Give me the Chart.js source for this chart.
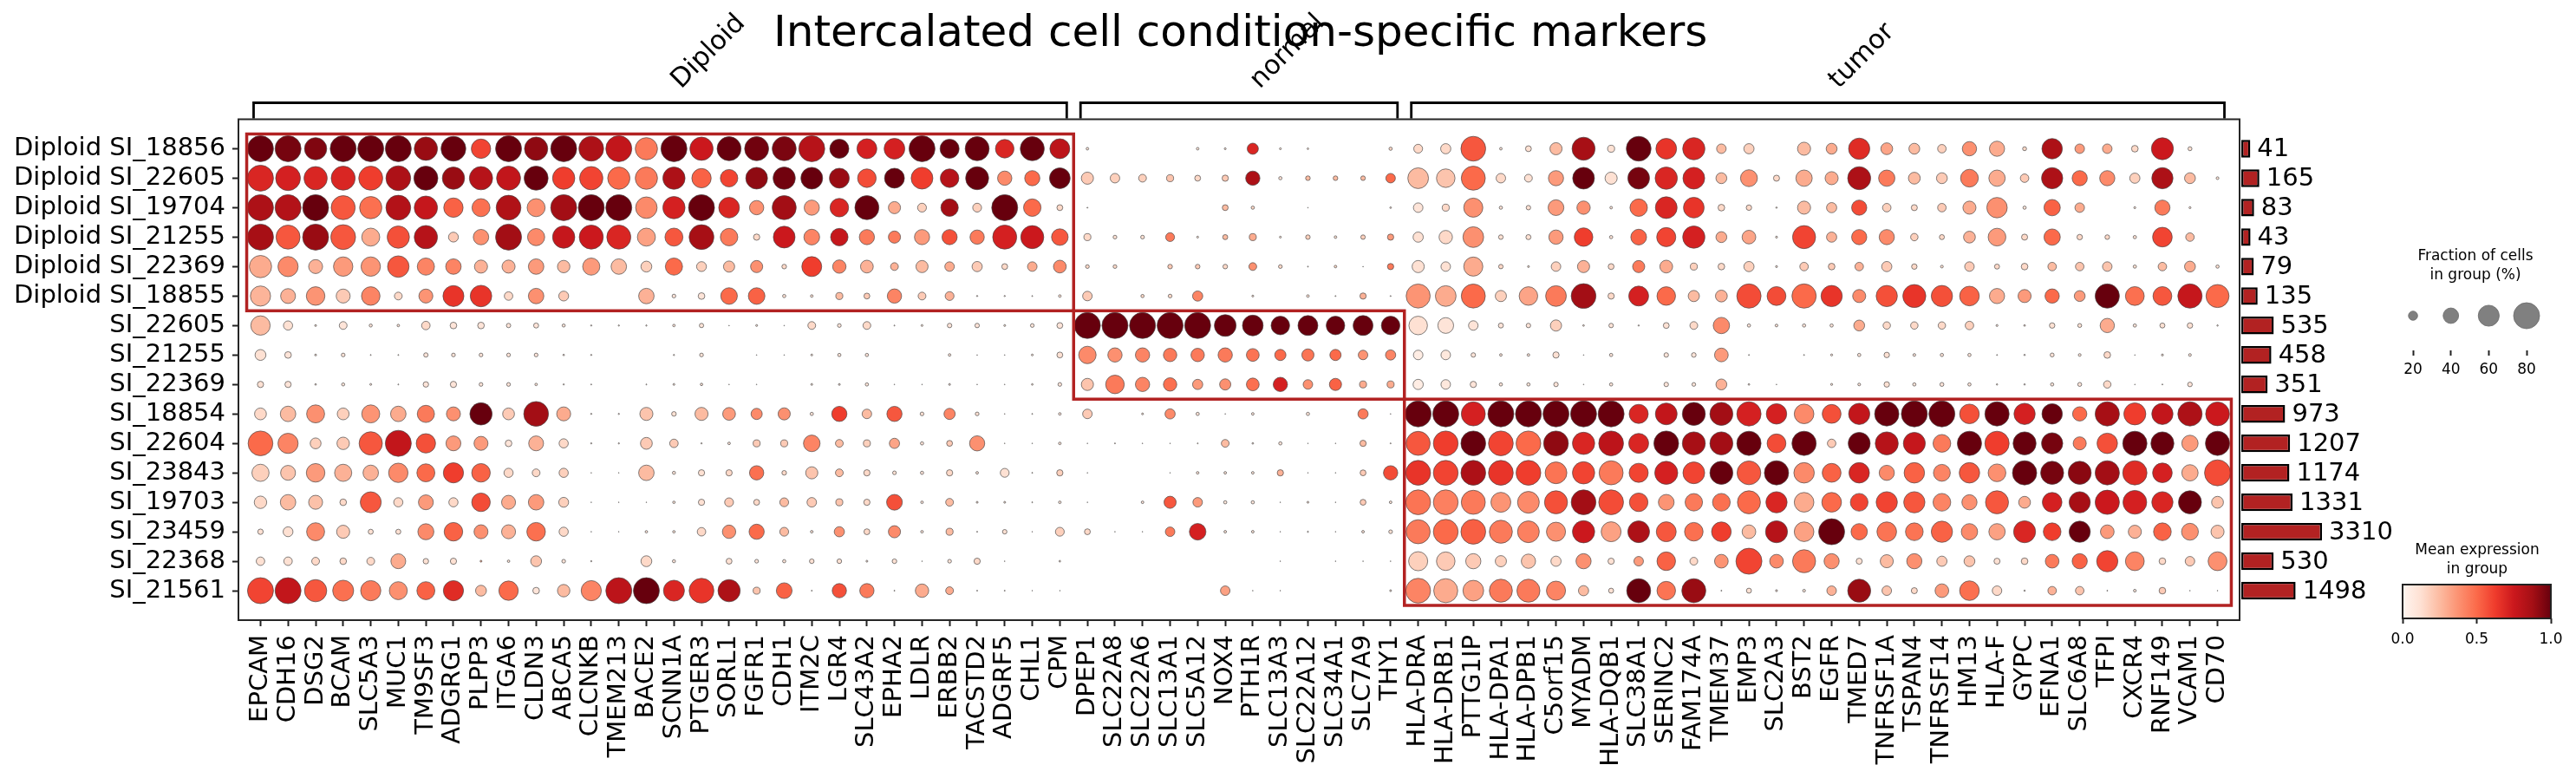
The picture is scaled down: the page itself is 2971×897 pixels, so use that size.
<!DOCTYPE html>
<html><head><meta charset="utf-8">
<script src="https://cdn.jsdelivr.net/npm/chart.js@4.4.1/dist/chart.umd.min.js"></script>
<style>
html,body{margin:0;padding:0;background:#fff;overflow:hidden;width:2971px;height:897px}
canvas{position:absolute;left:0;top:0}
</style></head>
<body>
<canvas id="main" width="2971" height="897"></canvas>
<canvas id="bars" width="2971" height="897"></canvas>
<canvas id="sizeLegend" width="2971" height="897"></canvas>
<canvas id="cbar" width="2971" height="897"></canvas>
<script>
// ---------------- DATA ----------------
const chartTitle = 'Intercalated cell condition-specific markers';
const diploidGenes = ['EPCAM','CDH16','DSG2','BCAM','SLC5A3','MUC1','TM9SF3','ADGRG1','PLPP3','ITGA6','CLDN3','ABCA5','CLCNKB','TMEM213','BACE2','SCNN1A','PTGER3','SORL1','FGFR1','CDH1','ITM2C','LGR4','SLC43A2','EPHA2','LDLR','ERBB2','TACSTD2','ADGRF5','CHL1','CPM'];
const normalGenes = ['DPEP1','SLC22A8','SLC22A6','SLC13A1','SLC5A12','NOX4','PTH1R','SLC13A3','SLC22A12','SLC34A1','SLC7A9','THY1'];
const tumorGenes = ['HLA-DRA','HLA-DRB1','PTTG1IP','HLA-DPA1','HLA-DPB1','C5orf15','MYADM','HLA-DQB1','SLC38A1','SERINC2','FAM174A','TMEM37','EMP3','SLC2A3','BST2','EGFR','TMED7','TNFRSF1A','TSPAN4','TNFRSF14','HM13','HLA-F','GYPC','EFNA1','SLC6A8','TFPI','CXCR4','RNF149','VCAM1','CD70'];
const groupLabels = ['Diploid','normal','tumor'];
const rowLabels = ['Diploid SI_18856','Diploid SI_22605','Diploid SI_19704','Diploid SI_21255','Diploid SI_22369','Diploid SI_18855','SI_22605','SI_21255','SI_22369','SI_18854','SI_22604','SI_23843','SI_19703','SI_23459','SI_22368','SI_21561'];
const rowGroupSizes = [6, 3, 7];
const cellCounts = [41,165,83,43,79,135,535,458,351,973,1207,1174,1331,3310,530,1498];
const legendFractions = [20,40,60,80];
const colorbarTicks = [0, 0.5, 1];

// fraction of cells expressing (%) per row (sample) x gene
const fraction = [
 [88,88,65,88,88,88,69,75,54,88,69,88,75,88,65,88,69, 72,72,72,88,53,56,59,88,53,72,51,72,56,3.7,0,0,0,3.7, 2.4,26,2.4,2,0,0,5,19,23,75,3.7,11,29,68,14,75,59,65, 21,23,0,32,25,61,28,25,18,36,39,6.5,58,21,21,13,64,6.5,0],
 [88,75,69,72,72,75,72,65,69,72,72,65,69,65,65,65,54, 47,63,65,63,56,51,56,63,51,68,36,39,59,29,21,16,14,11, 12,36,5,8,8,8,21,59,51,72,21,16,39,63,29,63,65,63, 25,45,11.5,43,32,68,43,28,25,48,43,18,61,39,39,23,61,25,4],
 [88,88,88,72,65,75,69,54,49,75,49,88,88,88,62,65,88, 59,36,72,39,51,72,29,19,47,19,88,47,11,1,0,0,0,0, 11,5,0,0.6,0,0,2,21,14,53,5,7.7,41,33,3.7,47,63,59, 13,10,1.6,32,23,39,18,11.5,18,32,58,5,43,21,0,2.6,39,2.6,0],
 [88,72,88,75,49,65,69,22,40,88,46,65,72,72,49,49,75, 47,12,63,41,47,39,29,39,39,36,72,68,44,14,6,6,19,2.4, 9,14,2.4,7.7,3.7,7.7,12,23,33,59,8,9,36,51,5,41,53,65, 25,34,2.6,68,23,39,39,15,9,28,48,11.5,43,10,8,5,55,18,0],
 [65,57,35,54,54,62,46,40,32,32,40,30,46,40,25,46,22, 26,29,8,56,33,31,16,29,21,23,11,21,31,6,6,0,8,8, 8,16,6,1,3.7,0.6,12,29,21,53,7.7,2.4,21,29,11,29,31,14, 13,23,2.6,18,13,18,23,10,4,21,9,13,18,18,21,5,18,25,5],
 [57,38,51,35,51,16,35,60,62,18,40,22,0,0,40,6,13, 44,44,5,3.7,14,11,36,16,19,1.4,1.4,1,3.7,21,0,5,6,23, 0,2.4,0,3.7,1,12,1,72,59,72,26,51,59,75,12,56,51,26, 28,73,52,73,61,32,61,68,61,55,39,32,36,25,73,52,52,73,68],
 [54,20,2.4,16,4.7,3.5,18,13,13,7.4,9,4.7,1.4,1.4,1.4,3.5,7.4, 0.6,2.4,0.6,16,6,16,1,2.4,7.7,7.7,2.4,6,11,88,88,88,85,85, 63,59,51,56,51,56,51,51,41,21,9,7.7,26,2,7.7,1.4,11,16, 43,5,4,5,5,25,15,15,15,18,2.6,2,10,6.5,36,5,9,10,1.6],
 [25,13,2.4,6,1,1,7.4,6,6,6,6,1.9,1.4,0,0,1.4,6, 0,0.6,0.6,2.4,5,5,0,0,3.7,0.6,0.6,2.4,11,47,36,36,33,33, 36,31,26,29,26,21,23,21,21,7.7,3.7,3.7,12,0.6,5,0,7.7,8, 34,1,0,1,2.6,5,10,4,5,5,1,1.6,6.5,4,13,0.6,2.6,4,0],
 [12,12,1.9,4.7,2.4,1,10,12,6,6,3.5,1.4,1,0,1,2.4,3.5, 0.6,0.6,0,2.4,2.4,5,0.6,0.6,2.4,0.6,0.6,2,6,29,51,36,33,23, 26,31,36,21,29,14,14,23,21,12,5,5,7.7,0.6,5,0,7.7,6, 25,2,0.6,0,2.6,4,10,5,6.5,5,1.6,1.6,5,6.5,15,0.6,1,8,0],
 [28,40,49,28,49,40,46,35,65,28,75,35,1.4,1.4,32,8,32, 31,26,29,5,39,21,39,6,26,6,0.6,1,3.7,21,0,2.4,23,5, 0.6,3.7,0,5,0,23,0.6,88,88,72,88,88,88,88,88,53,63,68, 68,73,58,55,52,61,73,88,88,55,73,61,58,36,73,64,61,73,71],
 [75,57,25,30,69,88,54,38,35,13,38,20,1.4,1.4,28,18,1.4, 3.7,14,14,44,16,14,23,5,11,39,0.6,0.6,3.7,0.6,1,0.6,0.6,1, 16,2,5,0.6,0.6,12,1,72,75,75,75,75,75,65,75,56,75,68, 68,73,52,73,18,64,68,64,48,73,73,68,61,32,58,73,68,43,73],
 [46,38,51,46,40,54,49,57,51,20,16,20,0.6,0.6,40,4.7,12, 12,36,8,29,16,12,6,5,12,3.7,19,1,12,0.6,0,0,0.6,3.7, 3.7,3.7,12,0.6,0.6,11,36,75,75,75,75,75,63,65,72,53,68,63, 68,71,73,58,52,58,39,58,45,58,48,73,68,68,73,73,55,43,88],
 [30,40,35,13,60,20,38,20,51,35,40,22,0.6,0.6,0.6,3.5,12, 19,11,19,21,14,12,41,3.7,16,2.4,2.4,1,3.7,0.6,0,3.7,29,21, 5,5,0.6,2.4,0.6,11,3.7,75,75,72,56,63,68,75,75,51,41,47, 48,68,61,55,55,48,61,61,48,39,68,28,55,61,73,71,61,68,28],
 [10,22,49,32,9,9,42,51,35,35,51,20,0.6,0.6,3.5,3.5,18, 33,39,19,3.7,23,11,29,3.7,14,1,7.7,0.6,19,11,0.6,0.6,21,44, 3.7,3.7,0.6,1.4,0.6,3.7,6,72,75,75,68,63,53,65,56,63,56,51, 55,34,64,55,88,43,55,48,61,43,43,64,48,61,34,32,48,45,32],
 [18,18,16,13,16,38,10,12,2.4,3.5,25,6,1.4,0,25,4.7,0, 11,6,5,8,8,2.4,8,0.6,6,12,0.6,0,2,0,0,0,0,0, 0,0,0.6,0,0.6,0.6,0.6,53,51,39,26,36,23,39,12,21,51,16, 34,88,34,68,39,11.5,32,39,23,25,11.5,13,34,39,61,52,13,21,52],
 [88,88,65,60,57,49,49,57,25,54,13,30,57,88,88,60,75, 65,14,41,1,36,36,1,33,16,1,1,0.6,0.6,0,0,0,0,0, 21,0.6,0.6,0,0,0,2.4,75,72,59,68,68,53,23,9,72,51,72, 1,9,2.6,4,21,68,21,11.5,34,55,21,1.6,18,18,1,4,13,0.6,0.6]
];

// mean expression in group (scaled 0..1) per row x gene
const meanExpr = [
 [1.0,0.97,0.95,1.0,1.0,1.0,0.9,1.0,0.6,1.0,0.92,1.0,0.85,0.78,0.45,1.0,0.75, 1.0,0.98,0.96,0.82,1.0,0.72,0.72,1.0,1.0,1.0,0.7,1.0,0.8,0.1,0,0,0,0.1, 0.1,0.7,0.1,0.1,0,0,0.15,0.15,0.15,0.55,0.1,0.12,0.25,0.87,0.12,1.0,0.65,0.7, 0.25,0.18,0,0.25,0.3,0.68,0.32,0.25,0.18,0.38,0.3,0.15,0.85,0.35,0.3,0.15,0.75,0.12,0],
 [0.7,0.72,0.7,0.7,0.62,0.85,1.0,0.9,0.82,0.78,1.0,0.62,0.6,0.5,0.45,0.85,0.52, 0.6,0.92,0.98,1.0,0.9,0.58,1.0,0.62,0.82,1.0,0.4,0.5,1.0,0.2,0.18,0.18,0.22,0.15, 0.2,0.85,0.1,0.25,0.25,0.25,0.5,0.25,0.22,0.5,0.15,0.12,0.35,1.0,0.12,0.97,0.7,0.72, 0.25,0.38,0.15,0.3,0.3,0.85,0.45,0.25,0.2,0.45,0.3,0.2,0.85,0.5,0.4,0.18,0.85,0.25,0.1],
 [0.85,0.83,1.0,0.55,0.48,0.83,0.77,0.52,0.48,0.84,0.38,0.88,1.0,1.0,0.4,0.72,1.0, 0.7,0.38,0.88,0.35,0.7,1.0,0.3,0.18,0.88,0.18,1.0,0.5,0.15,0.1,0,0,0,0, 0.25,0.15,0,0.1,0,0,0.1,0.1,0.15,0.38,0.1,0.12,0.35,0.38,0.1,0.5,0.7,0.65, 0.15,0.15,0.1,0.25,0.25,0.58,0.18,0.15,0.2,0.3,0.38,0.1,0.52,0.3,0,0.1,0.45,0.1,0],
 [0.87,0.55,0.9,0.55,0.3,0.57,0.82,0.2,0.38,0.88,0.4,0.77,0.75,0.7,0.33,0.55,0.87, 0.45,0.15,0.75,0.42,0.77,0.45,0.45,0.35,0.57,0.45,0.72,0.75,0.55,0.15,0.12,0.12,0.45,0.1, 0.25,0.3,0.1,0.18,0.12,0.18,0.35,0.12,0.15,0.38,0.12,0.12,0.35,0.62,0.1,0.52,0.6,0.72, 0.3,0.32,0.1,0.6,0.28,0.5,0.4,0.18,0.15,0.28,0.35,0.15,0.5,0.15,0.15,0.12,0.6,0.25,0],
 [0.3,0.4,0.28,0.35,0.37,0.55,0.42,0.42,0.28,0.28,0.35,0.25,0.35,0.25,0.18,0.5,0.18, 0.25,0.38,0.15,0.62,0.42,0.28,0.28,0.25,0.3,0.2,0.15,0.3,0.4,0.15,0.15,0,0.2,0.2, 0.15,0.38,0.15,0.1,0.15,0.1,0.45,0.12,0.12,0.3,0.15,0.12,0.18,0.28,0.15,0.45,0.3,0.18, 0.15,0.18,0.1,0.2,0.2,0.28,0.2,0.15,0.12,0.2,0.15,0.15,0.25,0.22,0.22,0.12,0.25,0.3,0.12],
 [0.27,0.28,0.37,0.2,0.42,0.15,0.37,0.65,0.65,0.15,0.38,0.2,0,0,0.28,0.1,0.1, 0.5,0.52,0.12,0.12,0.25,0.2,0.42,0.2,0.28,0.1,0.1,0.1,0.12,0.2,0,0.15,0.15,0.42, 0,0.12,0,0.12,0.1,0.28,0.1,0.37,0.3,0.5,0.18,0.32,0.45,0.88,0.15,0.72,0.5,0.25, 0.28,0.58,0.58,0.5,0.65,0.4,0.57,0.65,0.57,0.52,0.3,0.35,0.5,0.35,1.0,0.48,0.55,0.77,0.5],
 [0.25,0.12,0.1,0.1,0.1,0.1,0.15,0.1,0.1,0.1,0.1,0.1,0.1,0.1,0.1,0.1,0.1, 0.1,0.1,0.1,0.15,0.1,0.15,0.1,0.1,0.1,0.1,0.1,0.1,0.1,1.0,1.0,1.0,1.0,1.0, 1.0,1.0,1.0,1.0,1.0,1.0,1.0,0.12,0.1,0.1,0.1,0.1,0.18,0.1,0.1,0.1,0.12,0.15, 0.4,0.1,0.1,0.1,0.1,0.3,0.15,0.15,0.15,0.18,0.1,0.1,0.12,0.12,0.3,0.1,0.12,0.12,0.1],
 [0.12,0.1,0.1,0.1,0.1,0.1,0.1,0.1,0.1,0.1,0.1,0.1,0.1,0,0,0.1,0.1, 0,0.1,0.1,0.1,0.1,0.1,0,0,0.1,0.1,0.1,0.1,0.12,0.4,0.38,0.42,0.45,0.45, 0.45,0.47,0.5,0.47,0.5,0.37,0.42,0.05,0.08,0.1,0.1,0.1,0.12,0.1,0.1,0,0.1,0.1, 0.35,0.1,0,0.1,0.1,0.1,0.12,0.1,0.1,0.1,0.1,0.1,0.1,0.1,0.15,0.1,0.1,0.1,0],
 [0.12,0.1,0.1,0.1,0.1,0.1,0.1,0.1,0.1,0.1,0.1,0.1,0.1,0,0.1,0.1,0.1, 0.1,0.1,0,0.1,0.1,0.1,0.1,0.1,0.1,0.1,0.1,0.1,0.1,0.22,0.45,0.42,0.48,0.35, 0.38,0.48,0.72,0.38,0.52,0.3,0.3,0.05,0.08,0.1,0.1,0.1,0.1,0.1,0.1,0,0.1,0.1, 0.28,0.1,0.1,0,0.1,0.1,0.12,0.1,0.1,0.1,0.1,0.1,0.1,0.1,0.15,0.1,0.1,0.1,0],
 [0.15,0.25,0.38,0.18,0.37,0.3,0.45,0.38,1.0,0.2,0.88,0.3,0.1,0.1,0.22,0.12,0.25, 0.35,0.4,0.38,0.1,0.62,0.25,0.55,0.12,0.42,0.12,0.1,0.1,0.1,0.2,0,0.1,0.4,0.1, 0.1,0.1,0,0.1,0,0.45,0.1,1.0,1.0,0.72,1.0,1.0,1.0,1.0,1.0,0.7,0.78,1.0, 0.88,0.72,0.72,0.4,0.57,0.78,1.0,1.0,1.0,0.57,1.0,0.72,1.0,0.5,0.87,0.62,0.78,0.85,0.75],
 [0.5,0.42,0.18,0.2,0.55,0.78,0.57,0.35,0.35,0.1,0.28,0.15,0.1,0.1,0.2,0.2,0.1, 0.1,0.2,0.2,0.42,0.25,0.18,0.32,0.1,0.2,0.38,0.1,0.1,0.1,0.1,0.1,0.1,0.1,0.1, 0.25,0.1,0.1,0.1,0.1,0.25,0.1,0.55,0.62,1.0,0.6,0.5,0.92,0.7,0.8,0.7,1.0,0.87, 0.88,1.0,0.58,1.0,0.2,1.0,0.82,0.77,0.45,1.0,0.62,1.0,0.97,0.45,0.57,1.0,1.0,0.35,1.0],
 [0.18,0.22,0.35,0.28,0.28,0.4,0.5,0.62,0.52,0.15,0.15,0.18,0.1,0.1,0.25,0.1,0.12, 0.15,0.48,0.15,0.22,0.25,0.15,0.12,0.1,0.15,0.1,0.12,0.1,0.18,0.1,0,0,0.1,0.1, 0.1,0.1,0.28,0.1,0.1,0.2,0.58,0.65,0.6,0.85,0.65,0.62,0.47,0.6,0.45,0.6,0.72,0.6, 1.0,0.55,1.0,0.4,0.52,0.7,0.4,0.52,0.42,0.55,0.38,1.0,0.97,0.93,0.88,0.68,0.72,0.3,0.58],
 [0.15,0.25,0.23,0.15,0.55,0.15,0.35,0.15,0.58,0.3,0.35,0.18,0.1,0.1,0.1,0.1,0.12, 0.2,0.15,0.25,0.2,0.22,0.15,0.57,0.1,0.25,0.1,0.1,0.1,0.1,0.1,0,0.1,0.55,0.35, 0.1,0.1,0.1,0.1,0.1,0.2,0.1,0.47,0.43,0.45,0.37,0.4,0.57,0.88,0.58,0.57,0.37,0.45, 0.48,0.5,0.7,0.3,0.5,0.6,0.6,0.55,0.42,0.38,0.55,0.3,0.72,0.87,0.75,0.72,0.7,1.0,0.22],
 [0.12,0.12,0.4,0.2,0.12,0.12,0.4,0.52,0.38,0.28,0.48,0.15,0.1,0.1,0.1,0.1,0.15, 0.38,0.5,0.25,0.1,0.38,0.15,0.4,0.1,0.25,0.1,0.12,0.1,0.18,0.15,0.1,0.1,0.45,0.72, 0.1,0.1,0.1,0.1,0.1,0.1,0.12,0.45,0.5,0.53,0.45,0.43,0.38,0.75,0.33,0.85,0.55,0.48, 0.62,0.25,0.82,0.33,1.0,0.5,0.47,0.47,0.52,0.4,0.33,0.7,0.62,1.0,0.35,0.28,0.52,0.38,0.22],
 [0.12,0.12,0.15,0.15,0.15,0.3,0.12,0.12,0.3,0.1,0.22,0.1,0.1,0,0.15,0.1,0, 0.12,0.1,0.1,0.12,0.12,0.1,0.12,0.1,0.1,0.15,0.1,0,0.1,0,0,0,0,0, 0,0,0.1,0,0.1,0.1,0.1,0.18,0.2,0.2,0.18,0.22,0.15,0.38,0.12,0.35,0.52,0.15, 0.37,0.6,0.4,0.45,0.38,0.12,0.25,0.38,0.2,0.22,0.12,0.15,0.45,0.52,0.6,0.42,0.15,0.2,0.38],
 [0.6,0.78,0.55,0.48,0.45,0.38,0.52,0.68,0.25,0.5,0.1,0.25,0.42,0.8,1.0,0.7,0.65, 0.85,0.22,0.52,0.1,0.57,0.45,0.1,0.3,0.3,0.1,0.1,0.1,0.1,0,0,0,0,0, 0.33,0.1,0.1,0,0,0,0.1,0.42,0.3,0.33,0.45,0.45,0.42,0.25,0.12,1.0,0.47,0.9, 0.1,0.12,0.1,0.1,0.28,0.9,0.22,0.15,0.35,0.48,0.15,0.1,0.28,0.22,0.1,0.1,0.2,0.1,0.1]
];

// ---------------- helpers ----------------
const FONT = "'DejaVu Sans', 'Liberation Sans', sans-serif";
const genes = diploidGenes.concat(normalGenes, tumorGenes);
const geneGroupSizes = [diploidGenes.length, normalGenes.length, tumorGenes.length];
const DOT_MAX = 80, MAX_R = 15;
function dotRadius(f) { if (!(f > 0)) return 0; return MAX_R * Math.pow(Math.min(f, DOT_MAX) / DOT_MAX, 0.75); }
const REDS = [[255,245,240],[254,224,210],[252,187,161],[252,146,114],[251,106,74],[239,59,44],[203,24,29],[165,15,21],[103,0,13]];
function reds(t) {
  t = Math.max(0, Math.min(1, t)); const p = t * 8; const i = Math.min(7, Math.floor(p)); const fr = p - i;
  const a = REDS[i], b = REDS[i + 1];
  return 'rgb(' + a.map((v, k) => Math.round(v + (b[k] - v) * fr)).join(',') + ')';
}
function ranges(sizes) { const out = []; let s = 0; sizes.forEach(n => { out.push([s, s + n - 1]); s += n; }); return out; }
const geneRanges = ranges(geneGroupSizes);
const rowRanges = ranges(rowGroupSizes);

const points = [];
rowLabels.forEach((r, ri) => genes.forEach((g, gi) => points.push({ x: gi, y: ri, f: fraction[ri][gi], e: meanExpr[ri][gi] })));

// ---------------- main dot plot ----------------
const decor = {
  id: 'decor',
  afterDatasetsDraw(chart) {
    const { ctx, chartArea: a, scales: { x, y } } = chart;
    ctx.save();
    // highlight boxes
    ctx.strokeStyle = '#b22222'; ctx.lineWidth = 3.5;
    geneRanges.forEach((gr, k) => {
      const rr = rowRanges[k];
      const x1 = x.getPixelForValue(gr[0] - 0.5), x2 = x.getPixelForValue(gr[1] + 0.5);
      const y1 = y.getPixelForValue(rr[0] - 0.5), y2 = y.getPixelForValue(rr[1] + 0.5);
      ctx.strokeRect(x1, y1, x2 - x1, y2 - y1);
    });
    // frame
    ctx.strokeStyle = '#262626'; ctx.lineWidth = 2;
    ctx.strokeRect(a.left, a.top, a.right - a.left, a.bottom - a.top);
    // brackets
    const yTop = 118.5, yBot = a.top - 1;
    ctx.strokeStyle = '#000'; ctx.lineWidth = 2.8; ctx.lineJoin = 'miter';
    ctx.fillStyle = '#000';
    geneRanges.forEach((gr, k) => {
      const x1 = x.getPixelForValue(gr[0] - 0.25), x2 = x.getPixelForValue(gr[1] + 0.25);
      ctx.beginPath(); ctx.moveTo(x1, yBot); ctx.lineTo(x1, yTop); ctx.lineTo(x2, yTop); ctx.lineTo(x2, yBot); ctx.stroke();
      const cx = (x1 + x2) / 2;
      ctx.save();
      ctx.translate(cx + 24, 103);
      ctx.rotate(-Math.PI / 4);
      ctx.font = '30.5px ' + FONT; ctx.textAlign = 'left'; ctx.textBaseline = 'alphabetic';
      ctx.fillText(groupLabels[k], 0, 0);
      ctx.restore();
    });
    // title
    ctx.font = '50px ' + FONT; ctx.textAlign = 'left'; ctx.textBaseline = 'alphabetic';
    ctx.fillText(chartTitle, 892, 53);
    ctx.restore();
  }
};

new Chart(document.getElementById('main'), {
  type: 'scatter',
  data: { datasets: [{
    data: points,
    pointRadius: c => dotRadius(c.raw.f),
    pointBackgroundColor: c => reds(c.raw.e),
    pointBorderColor: 'rgba(70,70,70,0.85)',
    pointBorderWidth: c => (c.raw.f > 0 ? 0.8 : 0),
    pointHoverRadius: c => dotRadius(c.raw.f)
  }] },
  options: {
    responsive: false, animation: false, events: [],
    layout: { padding: { left: 0, top: 137.5, right: 388, bottom: 0 } },
    plugins: { legend: { display: false }, tooltip: { enabled: false } },
    scales: {
      x: {
        type: 'linear', min: -0.8, max: 71.8,
        afterBuildTicks: s => { s.ticks = genes.map((_, i) => ({ value: i })); },
        afterFit: s => { s.height = 182; },
        ticks: { autoSkip: false, minRotation: 90, maxRotation: 90, padding: 10, color: '#000',
                 font: { family: FONT, size: 29 }, callback: v => genes[v] },
        grid: { drawOnChartArea: false, drawTicks: true, tickLength: 7, tickWidth: 2, tickColor: '#222' },
        border: { display: false }
      },
      y: {
        type: 'linear', min: -1, max: 16, reverse: true,
        afterBuildTicks: s => { s.ticks = rowLabels.map((_, i) => ({ value: i })); },
        afterFit: s => { s.width = 275; },
        ticks: { autoSkip: false, padding: 8, color: '#000', font: { family: FONT, size: 29 }, callback: v => rowLabels[v] },
        grid: { drawOnChartArea: false, drawTicks: true, tickLength: 7, tickWidth: 2, tickColor: '#222' },
        border: { display: false }
      }
    }
  },
  plugins: [decor]
});

// ---------------- bar panel (cell counts) ----------------
const LinearScale = Chart.LinearScale || Chart.registry.getScale('linear');
class SqrtScale extends LinearScale {
  getPixelForValue(value) {
    const lo = Math.sqrt(Math.max(this.min, 0)), hi = Math.sqrt(this.max);
    return this.getPixelForDecimal((Math.sqrt(Math.max(value, 0)) - lo) / (hi - lo));
  }
  getValueForPixel(pixel) {
    const lo = Math.sqrt(Math.max(this.min, 0)), hi = Math.sqrt(this.max);
    const s = lo + this.getDecimalForPixel(pixel) * (hi - lo); return s * s;
  }
}
SqrtScale.id = 'sqrt';
SqrtScale.defaults = LinearScale.defaults;
Chart.register(SqrtScale);

const barLabels = {
  id: 'barLabels',
  afterDatasetsDraw(chart) {
    const { ctx } = chart; const meta = chart.getDatasetMeta(0);
    ctx.save(); ctx.fillStyle = '#000'; ctx.font = '29px ' + FONT; ctx.textAlign = 'left'; ctx.textBaseline = 'middle';
    meta.data.forEach((bar, i) => ctx.fillText(String(cellCounts[i]), bar.x + 8, bar.y + 1));
    ctx.restore();
  }
};
new Chart(document.getElementById('bars'), {
  type: 'bar',
  data: { labels: rowLabels, datasets: [{ data: cellCounts, backgroundColor: '#b22222', borderColor: '#000', borderWidth: 2.5, borderSkipped: false, barPercentage: 0.6, categoryPercentage: 1.0 }] },
  options: {
    indexAxis: 'y', responsive: false, animation: false, events: [],
    layout: { padding: { left: 2585, right: 266, top: 154.5, bottom: 199 } },
    plugins: { legend: { display: false }, tooltip: { enabled: false } },
    scales: { x: { type: 'sqrt', min: 0, max: 5500, display: false }, y: { type: 'category', offset: true, display: false } }
  },
  plugins: [barLabels]
});

// ---------------- dot size legend ----------------
const sizeTitle = {
  id: 'sizeTitle',
  afterDraw(chart) {
    const { ctx } = chart; ctx.save(); ctx.fillStyle = '#000'; ctx.font = '17px ' + FONT; ctx.textAlign = 'center'; ctx.textBaseline = 'middle';
    ctx.fillText('Fraction of cells', 2855, 296); ctx.fillText('in group (%)', 2855, 318); ctx.restore();
  }
};
new Chart(document.getElementById('sizeLegend'), {
  type: 'scatter',
  data: { datasets: [{ data: legendFractions.map(f => ({ x: f, y: 0.5 })), pointRadius: c => dotRadius(c.raw.x), pointBackgroundColor: '#808080', pointBorderColor: '#6a6a6a', pointBorderWidth: 0.8 }] },
  options: {
    responsive: false, animation: false, events: [],
    layout: { padding: { left: 2750.3, right: 24.25, top: 324, bottom: 0 } },
    plugins: { legend: { display: false }, tooltip: { enabled: false } },
    scales: {
      x: { type: 'linear', min: 5, max: 95,
           afterBuildTicks: s => { s.ticks = legendFractions.map(v => ({ value: v })); },
           afterFit: s => { s.height = 897 - 404; },
           ticks: { autoSkip: false, maxRotation: 0, padding: 6, color: '#000', font: { family: FONT, size: 17 } },
           grid: { drawOnChartArea: false, drawTicks: true, tickLength: 6, tickWidth: 2, tickColor: '#222' },
           border: { display: false } },
      y: { type: 'linear', min: 0, max: 1, display: false }
    }
  },
  plugins: [sizeTitle]
});

// ---------------- colorbar ----------------
const cbarDraw = {
  id: 'cbarDraw',
  beforeDatasetsDraw(chart) {
    const { ctx, chartArea: a } = chart; ctx.save();
    const g = ctx.createLinearGradient(a.left, 0, a.right, 0);
    REDS.forEach((c, i) => g.addColorStop(i / 8, 'rgb(' + c.join(',') + ')'));
    ctx.fillStyle = g; ctx.fillRect(a.left, a.top, a.right - a.left, a.bottom - a.top);
    ctx.strokeStyle = '#222'; ctx.lineWidth = 2; ctx.strokeRect(a.left, a.top, a.right - a.left, a.bottom - a.top);
    ctx.fillStyle = '#000'; ctx.font = '17px ' + FONT; ctx.textAlign = 'center'; ctx.textBaseline = 'middle';
    ctx.fillText('Mean expression', 2857, 635); ctx.fillText('in group', 2857, 657);
    ctx.restore();
  }
};
new Chart(document.getElementById('cbar'), {
  type: 'scatter',
  data: { datasets: [{ data: [] }] },
  options: {
    responsive: false, animation: false, events: [],
    layout: { padding: { left: 2771, right: 29, top: 674, bottom: 0 } },
    plugins: { legend: { display: false }, tooltip: { enabled: false } },
    scales: {
      x: { type: 'linear', min: 0, max: 1,
           afterBuildTicks: s => { s.ticks = colorbarTicks.map(v => ({ value: v })); },
           afterFit: s => { s.height = 897 - 713; },
           ticks: { autoSkip: false, maxRotation: 0, padding: 8, color: '#000', font: { family: FONT, size: 17 }, callback: v => Number(v).toFixed(1) },
           grid: { drawOnChartArea: false, drawTicks: true, tickLength: 6, tickWidth: 2, tickColor: '#222' },
           border: { display: false } },
      y: { type: 'linear', min: 0, max: 1, display: false }
    }
  },
  plugins: [cbarDraw]
});
</script>
</body></html>
